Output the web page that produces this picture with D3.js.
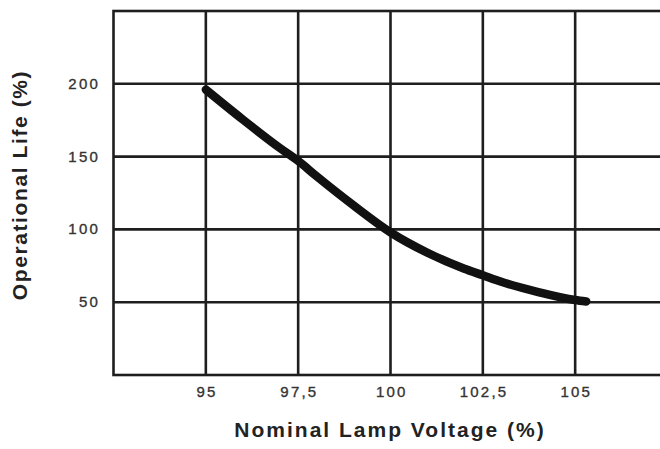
<!DOCTYPE html>
<html>
<head>
<meta charset="utf-8">
<script src="https://cdn.jsdelivr.net/npm/d3@7"></script>
<style>
  html, body { margin: 0; padding: 0; background: #fff; }
  svg { display: block; }
  text { font-family: "Liberation Sans", Arial, Helvetica, sans-serif; }
</style>
</head>
<body>
<svg id="chart" width="660" height="449"></svg>
<script>
// Lamp voltage (% of nominal) vs. operational life (% of rated)
const voltage = [95, 96, 97, 97.5, 98, 99, 100, 101, 102, 102.5, 103, 104, 105, 105.3];
const life    = [196, 175.5, 156, 147, 136.5, 116.5, 98, 84, 73, 68.5, 64, 57, 51.5, 50.5];

const xTicks = [95, 97.5, 100, 102.5, 105];
const xTickLabels = ["95", "97,5", "100", "102,5", "105"];
const yTicks = [50, 100, 150, 200];
const yTickLabels = ["50", "100", "150", "200"];

const xTitle = "Nominal Lamp Voltage (%)";
const yTitle = "Operational Life (%)";

const svg = d3.select("#chart");

const x = d3.scaleLinear().domain([92.5, 107.5]).range([113.5, 667.5]);
const y = d3.scaleLinear().domain([0, 250]).range([375, 11]);

const ink = "#1e1e1e";
const gridW = 2.6;

// Grid lines
const grid = svg.append("g");
grid.selectAll("line.v").data(xTicks).join("line")
  .attr("class", "v")
  .attr("x1", d => x(d)).attr("x2", d => x(d))
  .attr("y1", y(250)).attr("y2", y(0))
  .attr("stroke", ink).attr("stroke-width", gridW);
grid.selectAll("line.h").data(yTicks).join("line")
  .attr("class", "h")
  .attr("x1", x(92.5)).attr("x2", x(107.5))
  .attr("y1", d => y(d)).attr("y2", d => y(d))
  .attr("stroke", ink).attr("stroke-width", gridW);

// Plot frame (right side runs past the canvas edge)
svg.append("rect")
  .attr("x", x(92.5)).attr("y", y(250))
  .attr("width", x(107.5) - x(92.5)).attr("height", y(0) - y(250))
  .attr("fill", "none").attr("stroke", ink).attr("stroke-width", gridW);

// Tick labels
const tickStyle = sel => sel
  .attr("font-size", 15)
  .attr("letter-spacing", "2.2px")
  .attr("fill", "#333")
  .attr("stroke", "#333")
  .attr("stroke-width", 0.35);

svg.append("g").selectAll("text").data(xTicks).join("text")
  .attr("x", d => x(d) + 1.2)
  .attr("y", 397)
  .attr("text-anchor", "middle")
  .call(tickStyle)
  .text((d, i) => xTickLabels[i]);

svg.append("g").selectAll("text").data(yTicks).join("text")
  .attr("x", 100)
  .attr("y", d => y(d) + 5)
  .attr("text-anchor", "end")
  .call(tickStyle)
  .text((d, i) => yTickLabels[i]);

// Axis titles
svg.append("text")
  .attr("x", 390).attr("y", 437)
  .attr("text-anchor", "middle")
  .attr("font-size", 21)
  .attr("font-weight", "bold")
  .attr("letter-spacing", "2px")
  .attr("fill", "#222")
  .text(xTitle);

svg.append("text")
  .attr("transform", "translate(27,185) rotate(-90)")
  .attr("text-anchor", "middle")
  .attr("font-size", 21)
  .attr("font-weight", "bold")
  .attr("letter-spacing", "1.6px")
  .attr("fill", "#222")
  .text(yTitle);

// Life curve
const line = d3.line()
  .x((d, i) => x(voltage[i]))
  .y(d => y(d))
  .curve(d3.curveMonotoneX);

svg.append("path")
  .datum(life)
  .attr("d", line)
  .attr("fill", "none")
  .attr("stroke", "#111")
  .attr("stroke-width", 8.5)
  .attr("stroke-linecap", "round")
  .attr("stroke-linejoin", "round");
</script>
</body>
</html>
